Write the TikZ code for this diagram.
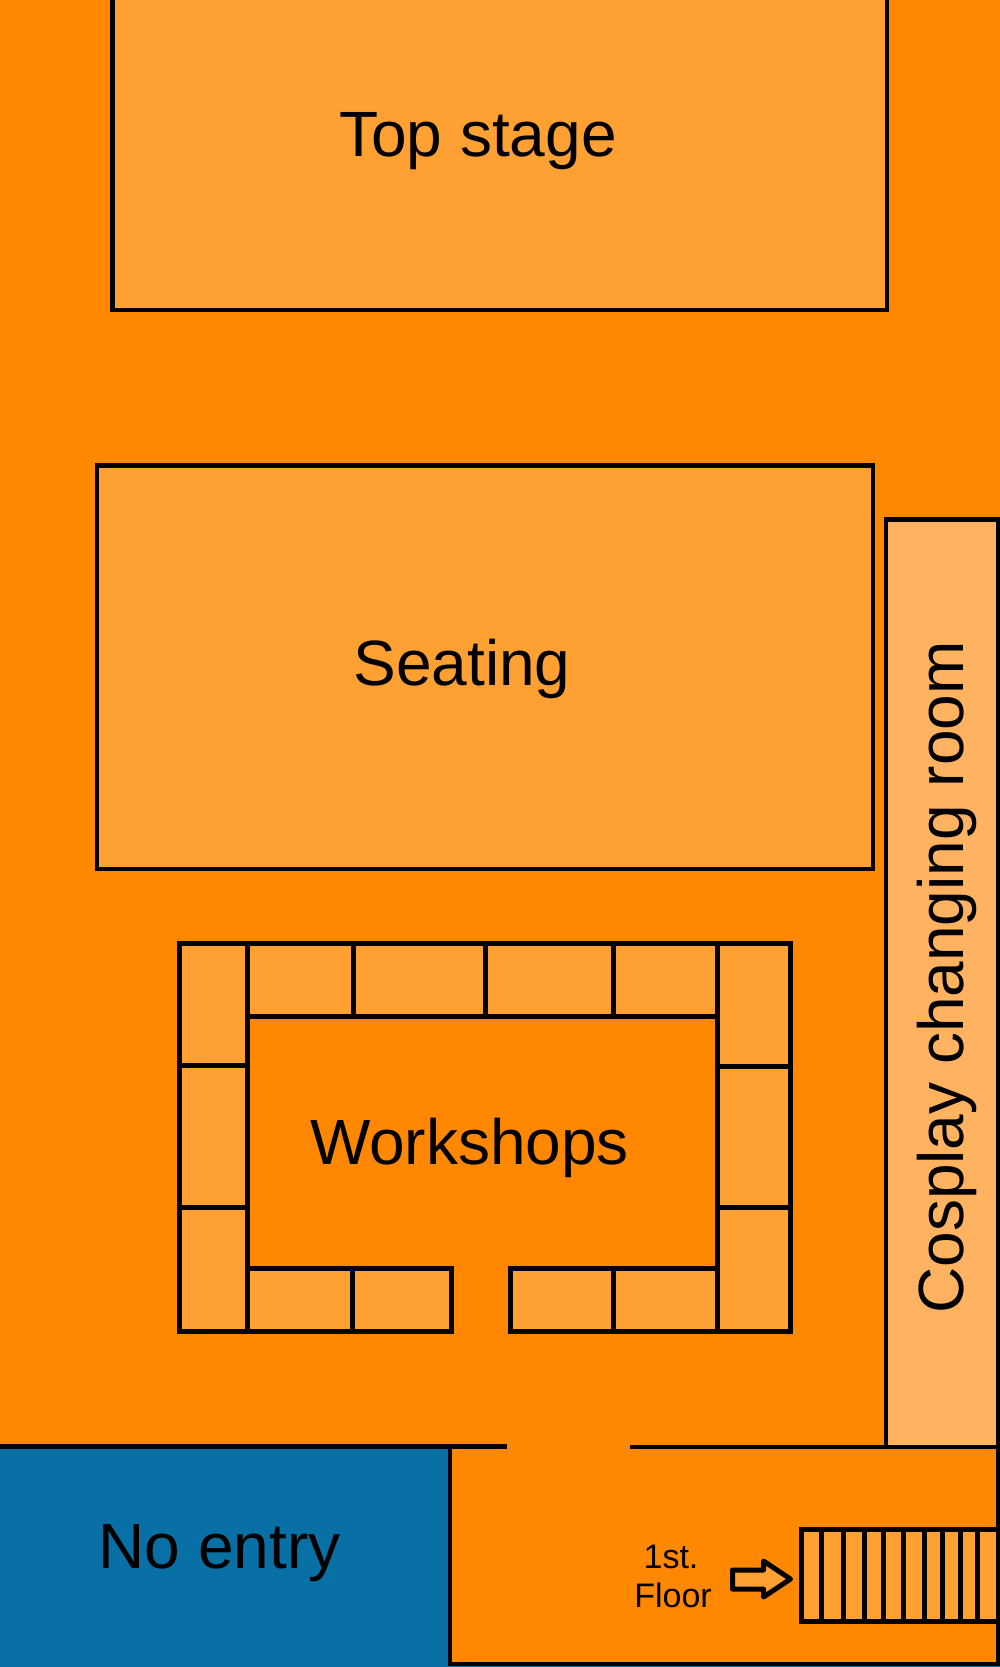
\documentclass[tikz,border=0pt]{standalone}
\usepackage{fontspec}
\setmainfont{Liberation Sans}
\definecolor{floor}{HTML}{FF8800}
\definecolor{room}{HTML}{FFA033}
\definecolor{change}{HTML}{FFB25F}
\definecolor{closed}{HTML}{0870A4}
\tikzset{
  wall/.style={draw=black,line width=4.5pt,line join=miter},
  thickwall/.style={draw=black,line width=5pt,line join=miter},
  roomfill/.style={wall,fill=room},
  biglabel/.style={anchor=base,inner sep=0pt,font=\fontsize{64pt}{70pt}\selectfont},
  smalllabel/.style={anchor=base,inner sep=0pt,font=\fontsize{34pt}{39pt}\selectfont}
}
\begin{document}
\begin{tikzpicture}[x=1pt,y=-1pt]
\useasboundingbox (0,0) rectangle (1000,1667);
\fill[floor] (0,0) rectangle (1000,1667);
% Top stage and seating
\draw[roomfill] (112.5,-10) rectangle (887,310);
\node[biglabel] (top) at (478,157) {Top stage};
\draw[roomfill] (97,465.5) rectangle (873,869);
\node[biglabel] (seat) at (462,685) {Seating};
% Changing room
\draw[wall,fill=change] (886,519.5) rectangle (998,1447);
\node[biglabel,rotate=90] (cosplay) at (963,977.5) {Cosplay changing room};
% Workshops
\fill[room] (179,943.5) rectangle (790,1331.5);
\fill[floor] (247.5,1016.5) rectangle (717.5,1268.5);
\fill[floor] (451.5,1268.5) rectangle (510.5,1340);
\draw[thickwall] (451.5,1331.5) -- (179,1331.5) -- (179,943.5) -- (790,943.5) -- (790,1331.5) -- (510.5,1331.5) -- (510.5,1268.5) -- (717.5,1268.5);
\draw[thickwall] (717.5,1016.5) -- (247.5,1016.5);
\draw[thickwall] (247.5,1268.5) -- (451.5,1268.5) -- (451.5,1333.5);
\draw[thickwall] (247.5,943.5) -- (247.5,1331.5);
\draw[thickwall] (717.5,943.5) -- (717.5,1331.5);
\foreach \x in {353,485.5,613.5} \draw[thickwall] (\x,943.5) -- (\x,1016.5);
\foreach \x in {352.5,613.5} \draw[thickwall] (\x,1268.5) -- (\x,1331.5);
\foreach \y in {1065.5,1207} \draw[thickwall] (179,\y) -- (247.5,\y);
\foreach \y in {1066.5,1207.5} \draw[thickwall] (717.5,\y) -- (790,\y);
\node[biglabel] (work) at (469.5,1164) {Workshops};
% No entry
\fill[closed] (0,1447) rectangle (450,1667);
\fill[closed] (450,1665.5) rectangle (1000,1667);
\node[biglabel] (noentry) at (219.5,1568) {No entry};
% Entrance walls
\draw[thickwall] (0,1446.5) -- (507,1446.5);
\draw[wall] (630,1447) -- (1000,1447);
\draw[wall,line width=4pt] (450,1447) -- (450,1664) -- (998,1664) -- (998,1447);
% Stairs
\fill[room] (801.5,1529.5) rectangle (996,1621.5);
\draw[thickwall] (996,1529.5) -- (801.5,1529.5) -- (801.5,1621.5) -- (996,1621.5);
\foreach \x in {821,843.3,864.5,883.5,903.5,924.5,942.5,960.5,977.5}
  \draw[thickwall] (\x,1529.5) -- (\x,1621.5);
\draw[thickwall,line join=round,fill=room] (732.5,1570) -- (763.5,1570) -- (763.5,1561) -- (790.5,1579) -- (763.5,1597) -- (763.5,1589) -- (732.5,1589) -- cycle;
\node[smalllabel] (first) at (671,1568) {1st.};
\node[smalllabel] (floorlabel) at (673,1607) {Floor};
\end{tikzpicture}
\end{document}
